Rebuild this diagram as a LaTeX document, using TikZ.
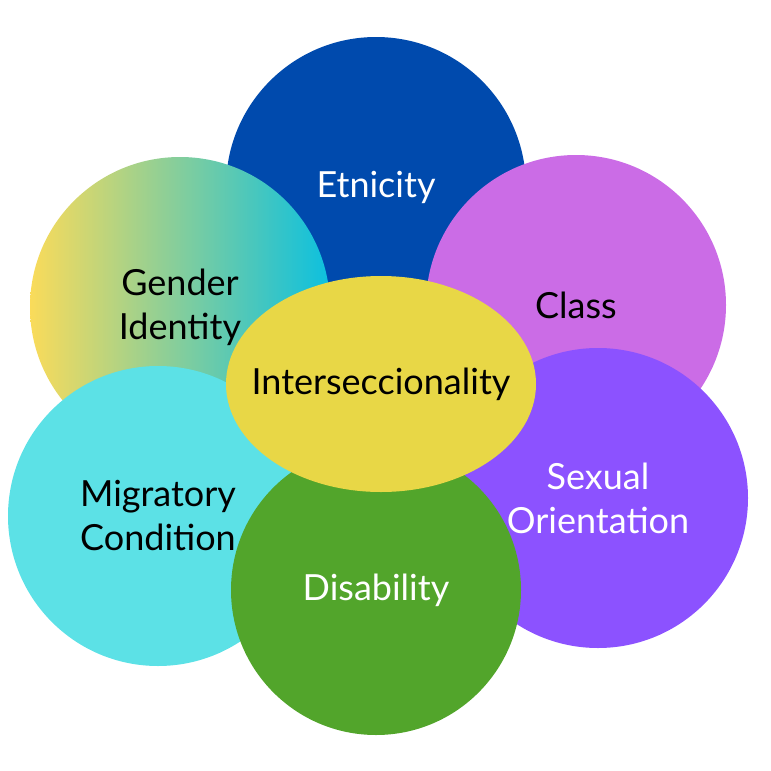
\documentclass[tikz,border=0pt]{standalone}
\usepackage{fontspec}
\setmainfont{Lato}
\usepackage{xcolor}
\usetikzlibrary{shapes.geometric,positioning}

\definecolor{etnblue}{HTML}{004AAD}
\definecolor{classpink}{HTML}{CB6CE6}
\definecolor{gendyellow}{HTML}{FADB5A}
\definecolor{gendcyan}{HTML}{0CC0DF}
\definecolor{migcyan}{HTML}{5CE1E6}
\definecolor{sexpurple}{HTML}{8C52FF}
\definecolor{disgreen}{HTML}{52A52B}
\definecolor{intyellow}{HTML}{E8D746}

\begin{document}
\begin{tikzpicture}[x=1pt,y=-1pt,
        bubble/.style={circle,minimum size=300pt,inner sep=0pt,align=center,
            font=\fontsize{36}{44}\selectfont},
        core/.style={ellipse,minimum width=310pt,minimum height=216pt,inner sep=0pt,
            fill=intyellow}]
        %\draw [help lines] (0,0) grid (771,771);
        \useasboundingbox (0,0) rectangle (771,771);

        \node[bubble,fill=etnblue,text=white] (etn) at (376,187) {Etnicity};
        \node[bubble,fill=classpink] (class) at (576,305) {Class};
        \node[bubble,left color=gendyellow,right color=gendcyan] (gend) at (180,307) {Gender\\Identity};
        \node[bubble,fill=migcyan] (mig) at (158,516) {Migratory\\Condition};
        \node[bubble,fill=sexpurple,text=white] (sex) at (598,498) {Sexual\\Orientation};
        \node[bubble,fill=disgreen,text=white,minimum size=290pt] (dis) at (376,590) {Disability};

        \node[core] (inter) at (381,384) {};
        \node[font=\fontsize{36}{44}\selectfont] (interlabel) at (inter) {Interseccionality};
    \end{tikzpicture}
\end{document}
